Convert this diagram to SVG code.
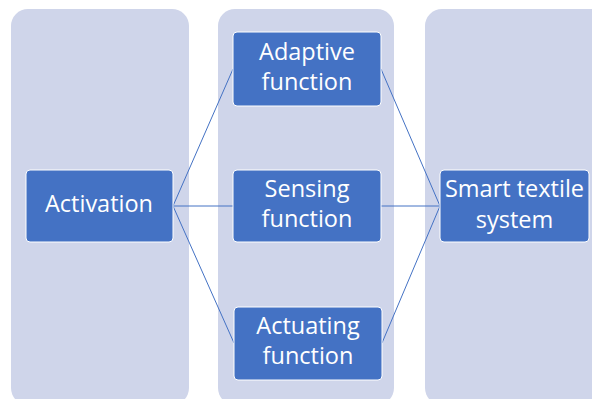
<svg xmlns="http://www.w3.org/2000/svg" width="592" height="399" viewBox="0 0 592 399">
  <style>
    .lane { fill: #CFD5EA; }
    .box { fill: #4472C4; stroke: #FFFFFF; stroke-width: 1; }
    .label { font-family: "Open Sans", "Liberation Sans", sans-serif; font-size: 23.5px; fill: #FFFFFF; text-anchor: middle; }
    .link { stroke: #4472C4; stroke-width: 1; fill: none; }
  </style>
  <rect width="592" height="399" fill="#FFFFFF"/>

  <!-- background lanes -->
  <g id="lanes">
    <rect class="lane" x="11" y="9" width="178" height="396" rx="17"/>
    <rect class="lane" x="218" y="9" width="176" height="396" rx="17"/>
    <rect class="lane" x="425" y="9" width="190" height="396" rx="17"/>
  </g>

  <!-- connectors -->
  <g id="connectors">
    <line class="link" x1="173" y1="206" x2="233" y2="69"/>
    <line class="link" x1="173" y1="206" x2="233" y2="206"/>
    <line class="link" x1="173" y1="206" x2="234" y2="343"/>
    <line class="link" x1="381" y1="69" x2="440" y2="206"/>
    <line class="link" x1="381" y1="206" x2="440" y2="206"/>
    <line class="link" x1="382" y1="343" x2="440" y2="206"/>
  </g>

  <g id="activation">
    <rect class="box" x="26" y="170" width="147" height="72" rx="4"/>
    <text class="label" x="99" y="212">Activation</text>
  </g>

  <g id="adaptive">
    <rect class="box" x="233" y="32" width="148" height="74" rx="4"/>
    <text class="label" x="307" y="60">Adaptive</text>
    <text class="label" x="307" y="90">function</text>
  </g>

  <g id="sensing">
    <rect class="box" x="233" y="170" width="148" height="72" rx="4"/>
    <text class="label" x="307" y="197">Sensing</text>
    <text class="label" x="307" y="227">function</text>
  </g>

  <g id="actuating">
    <rect class="box" x="234" y="307" width="148" height="73" rx="4"/>
    <text class="label" x="308" y="334">Actuating</text>
    <text class="label" x="308" y="364">function</text>
  </g>

  <g id="smart-textile">
    <rect class="box" x="440" y="170" width="149" height="72" rx="4"/>
    <text class="label" x="514.5" y="197">Smart textile</text>
    <text class="label" x="514.5" y="228">system</text>
  </g>
</svg>
